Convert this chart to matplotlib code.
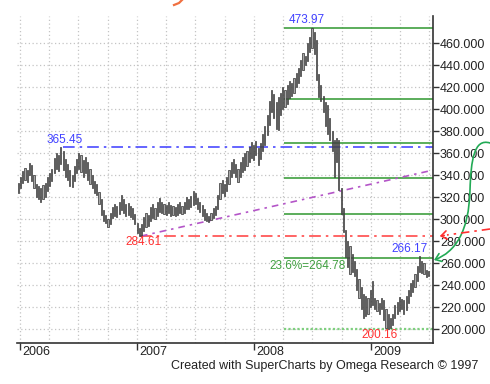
import matplotlib
matplotlib.use('Agg')
import matplotlib.pyplot as plt
import matplotlib.dates as mdates
import matplotlib.transforms as mtransforms
from matplotlib.path import Path
from matplotlib.patches import FancyArrowPatch
from matplotlib.lines import Line2D
import pandas as pd
import numpy as np

plt.rcParams['font.family'] = ['Liberation Sans', 'DejaVu Sans']

# Weekly bars, late Dec 2005 .. end of June 2009
weeks = pd.date_range('2005-12-26', periods=184, freq='7D')
highs = [
    333, 338, 344, 347, 345,
    351, 349, 340, 332, 330,
    328, 331, 333, 338, 342,
    346, 356, 360, 358, 365.45,
    362, 355, 350, 345, 340,
    348, 355, 360, 358, 354,
    357, 352, 346, 340, 335,
    332, 325, 318, 308, 304,
    300, 306, 311, 314, 312,
    316, 322, 318, 314, 315,
    312, 310, 305, 297, 292,
    296, 302, 306, 304, 311,
    314, 310, 316, 319, 316,
    314, 313, 316, 313, 312,
    311, 314, 316, 312, 316,
    320, 318, 321, 326, 324,
    319, 316, 313, 309, 306,
    303, 306, 310, 312, 322,
    333, 336, 332, 338, 345,
    352, 355, 350, 346, 352,
    357, 360, 362, 366, 370,
    368, 371, 365, 369, 378,
    385, 395, 408, 418, 414,
    407, 411, 415, 420, 418,
    422, 426, 424, 429, 433,
    438, 445, 451, 449, 460,
    466, 473.97, 470, 463, 432,
    422, 412, 407, 404, 392,
    380, 372, 373.5, 372, 328,
    310, 290, 280, 276, 268,
    262, 255, 246, 238, 232,
    230, 228, 236, 244, 228,
    226, 224, 228, 226, 218,
    214, 210, 214, 222, 225,
    229, 227, 226, 230, 236,
    242, 245, 250, 257, 266.17,
    262, 260, 254, 253,
]
lows = [
    324, 328, 333, 336, 334,
    340, 335, 328, 320, 318,
    316, 318, 320, 326, 330,
    335, 342, 346, 344, 350,
    345, 338, 336, 330, 329,
    335, 342, 346, 343, 338,
    342, 336, 332, 328, 324,
    322, 314, 304, 298, 297,
    293, 296, 301, 303, 302,
    305, 308, 306, 303, 304,
    302, 300, 296, 287, 284.61,
    285, 289, 293, 294, 298,
    301, 300, 303, 307, 306,
    305, 304, 306, 303, 304,
    303, 304, 306, 305, 306,
    309, 309, 311, 313, 314,
    309, 307, 303, 299, 298,
    297.7, 299, 301, 304, 309,
    318, 324, 321, 326, 332,
    338, 342, 338, 334, 338,
    343, 345, 348, 352, 356,
    354, 358, 349, 355, 362,
    368, 377, 386, 398, 392,
    382, 381, 395, 400, 402,
    405, 410, 412, 415, 420,
    424, 430, 436, 440, 444,
    452, 456, 450, 427, 411,
    408, 398, 385, 378, 372,
    362, 338.6, 352, 326.5, 305,
    288, 266, 256.7, 250, 252,
    248, 236, 228, 218, 210,
    212, 214, 220, 222, 218,
    216, 214, 218, 208, 200.7,
    200.16, 201, 204, 210, 214,
    216, 218, 214, 217, 224,
    230, 234, 238, 244, 252,
    251, 250, 247, 248,
]

# Annotation levels
peak_high = 473.97
trough_low = 200.16
fib_ratios = [0.236, 0.382, 0.5, 0.618, 0.764, 1.0]
resistance = 365.45
support = 284.61
rebound_high = 266.17
trend_dates = ['2007-01-13', '2009-07-13']
trend_values = [284.61, 344.7]
fib_start = '2008-04-03'
yticks = list(range(200, 461, 20))

fig = plt.figure(figsize=(4.9, 3.84), dpi=100)
ax = fig.add_axes([17 / 490, 1 - 343 / 384, 416 / 490, 327 / 384])

xmin = mdates.date2num(pd.Timestamp('2005-12-22'))
xmax = mdates.date2num(pd.Timestamp('2009-07-13'))
d = lambda s: mdates.date2num(pd.Timestamp(s))

x = mdates.date2num(weeks)
h = np.array(highs)
l = np.array(lows)
ax.bar(x, h - l, bottom=l, width=3.6, color='#a8a8a8',
       edgecolor='#2e2e2e', linewidth=0.5, zorder=3)

# Fibonacci retracement lines
levels = [trough_low + r * (peak_high - trough_low) for r in fib_ratios]
ax.hlines(levels, d(fib_start), xmax, colors='#3f9f3f', lw=1.2, zorder=2)
ax.hlines(trough_low, d(fib_start), xmax, colors='#7fcf7f', lw=1.6,
          linestyles=(0, (1, 1)), zorder=2)

# Resistance / support / trend
ax.plot([d('2006-05-15'), xmax], [resistance] * 2, color='#4a4aff', lw=1.2,
        ls=(0, (7, 3, 1.5, 3)), zorder=2)
ax.plot([d('2007-01-11'), xmax], [support] * 2, color='#ff4a4a', lw=1.2,
        ls=(0, (7, 3, 1.5, 3)), zorder=2)
ax.plot([d(t) for t in trend_dates], trend_values, color='#b455c8', lw=1.2,
        ls=(0, (4, 3, 1.5, 3)), zorder=2)

fs = 8.5
ax.text(d('2008-06-13'), peak_high + 1.5, f'{peak_high:.2f}', color='#4040ff',
        ha='center', va='bottom', fontsize=fs)
ax.text(d('2006-05-19'), resistance + 1.5, f'{resistance:.2f}', color='#4040ff',
        ha='center', va='bottom', fontsize=fs)
ax.text(d('2007-01-21'), support + 0.3, f'{support:.2f}', color='#ff3030',
        ha='center', va='top', fontsize=fs)
ax.text(d('2009-06-26'), rebound_high + 1.0, f'{rebound_high:.2f}', color='#4040ff',
        ha='right', va='bottom', fontsize=fs)
ax.text(d('2008-10-12'), levels[0] - 1.5, f'23.6%={levels[0]:.2f}', color='#3f9f3f',
        ha='right', va='top', fontsize=fs)
ax.text(d('2009-01-27'), trough_low - 0.5, f'{trough_low:.2f}', color='#ff3030',
        ha='center', va='top', fontsize=fs)

# Axes styling
ax.set_xlim(xmin, xmax)
ax.set_ylim(187.3, 485)
ax.yaxis.tick_right()
ax.set_yticks(yticks)
ax.yaxis.set_major_formatter(matplotlib.ticker.FormatStrFormatter('%.3f'))
ax.xaxis.set_major_locator(mdates.YearLocator())
ax.xaxis.set_major_formatter(mdates.DateFormatter('%Y'))
ax.xaxis.set_minor_locator(mdates.MonthLocator(bymonth=[4, 7, 10]))
ax.tick_params(axis='y', which='major', length=4, width=1, color='#333333',
               labelsize=fs + 0.5, labelcolor='#222222', pad=1)
ax.tick_params(axis='x', which='major', length=5, width=1, color='#333333',
               labelsize=fs + 0.5, labelcolor='#222222', pad=-3)
ax.tick_params(axis='x', which='minor', length=0)
shift = mtransforms.ScaledTranslation(2 / 100, 0, fig.dpi_scale_trans)
for lbl in ax.get_xticklabels():
    lbl.set_ha('left')
    lbl.set_transform(lbl.get_transform() + shift)

ax.grid(True, which='major', axis='y', color='#c4c4c4', ls=(0, (1, 2)), lw=0.9)
ax.grid(True, which='both', axis='x', color='#c4c4c4', ls=(0, (1, 2)), lw=0.9)
ax.set_axisbelow(True)
for s in ['left', 'top']:
    ax.spines[s].set_visible(False)
for s in ['right', 'bottom']:
    ax.spines[s].set_color('#333333')
    ax.spines[s].set_linewidth(1.2)

fig.text(478 / 490, 1 - 366 / 384, 'Created with SuperCharts by Omega Research \u00a9 1997',
         ha='right', va='center', fontsize=fs + 0.5, color='#222222')

# Hand-drawn marks outside the plot area (figure pixels)
px = lambda X, Y: (X / 490, 1 - Y / 384)
verts = [px(490, 143), px(474, 138), px(471, 160), px(470, 190),
         px(469, 232), px(455, 252), px(434, 260)]
codes = [Path.MOVETO] + [Path.CURVE4] * 6
fig.add_artist(FancyArrowPatch(path=Path(verts, codes), transform=fig.transFigure,
                               arrowstyle='->,head_length=4,head_width=3',
                               color='#22aa55', lw=1.2, mutation_scale=1))
fig.add_artist(Line2D([px(490, 229)[0], px(447, 235)[0]], [px(490, 229)[1], px(447, 235)[1]],
                      transform=fig.transFigure, color='#ff3030', lw=1.2,
                      ls=(0, (5, 3, 1.5, 3))))
fig.add_artist(FancyArrowPatch(px(447, 235), px(437, 236.5), transform=fig.transFigure,
                               arrowstyle='->,head_length=4,head_width=3',
                               color='#ff3030', lw=1.2, mutation_scale=1))
fig.add_artist(Line2D([px(174, 5)[0], px(179, 3)[0], px(182, 0)[0]],
                      [px(174, 5)[1], px(179, 3)[1], px(182, 0)[1]],
                      transform=fig.transFigure, color='#f07040', lw=1.6))

fig.savefig('out.png', dpi=100)
